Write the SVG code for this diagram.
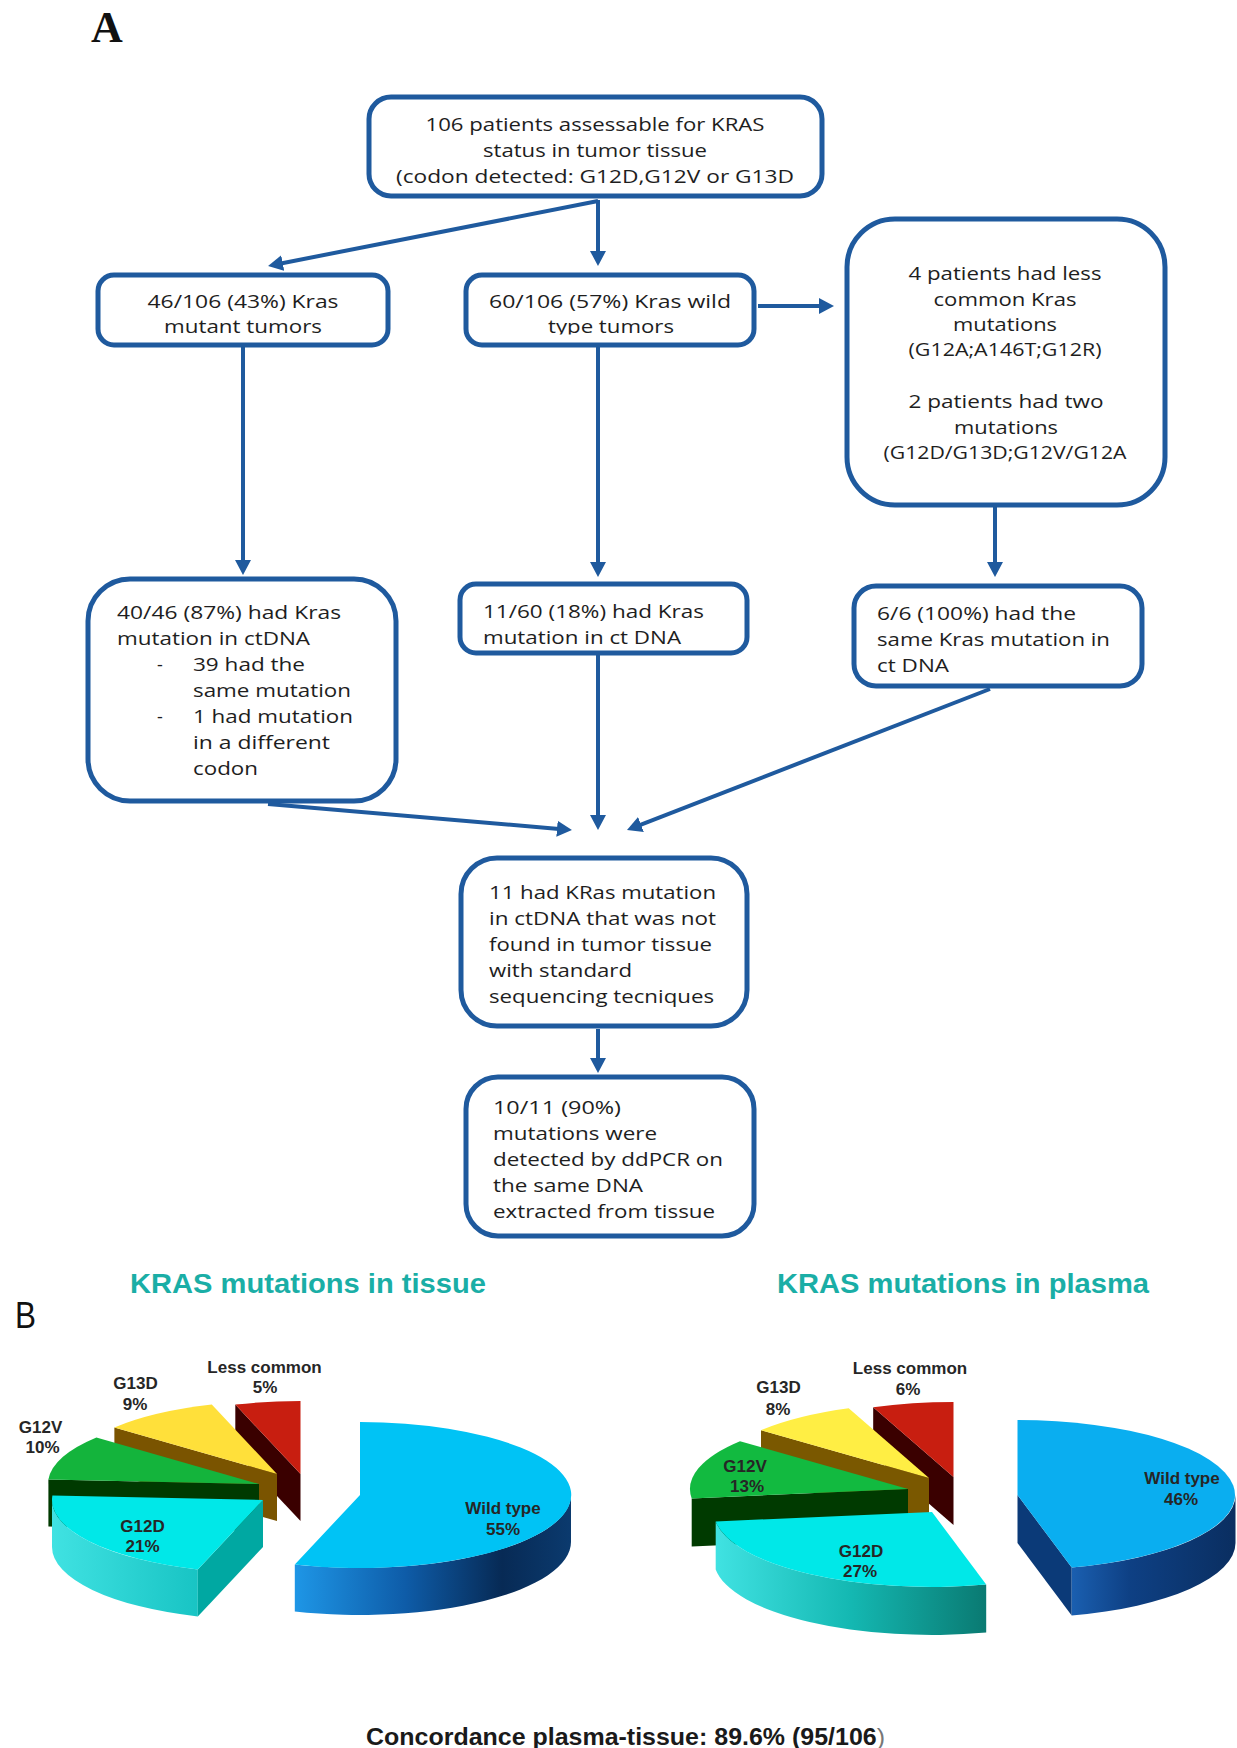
<svg xmlns="http://www.w3.org/2000/svg" width="1237" height="1748" viewBox="0 0 1237 1748">
<style>
.box{fill:#fff;stroke:#1F5A9E;stroke-width:5}
.t{font-family:"Open Sans","Liberation Sans",sans-serif;font-size:18px;fill:#1e1e1e}
.c{text-anchor:middle}
.conn{stroke:#1F5A9E;stroke-width:4;fill:none;marker-end:url(#ah)}
.lbl{font-family:"Liberation Sans",Arial,sans-serif;font-weight:bold;font-size:17px;fill:#262626;text-anchor:middle}
.title{font-family:"Liberation Sans",Arial,sans-serif;font-weight:bold;font-size:28.5px;fill:#1AAEA6}
</style>
<defs>
<marker id="ah" markerUnits="userSpaceOnUse" markerWidth="16" markerHeight="16" refX="2" refY="8" orient="auto">
<path d="M0,0 L15,8 L0,16 Z" fill="#1F5A9E"/>
</marker>
<clipPath id="clipWild"><rect x="464" y="273" width="292" height="61.5"/></clipPath>
<linearGradient id="tWildSide" gradientUnits="userSpaceOnUse" x1="295" y1="0" x2="571" y2="0">
<stop offset="0" stop-color="#1E96E6"/><stop offset="0.4" stop-color="#0E5CA8"/><stop offset="0.75" stop-color="#072A55"/><stop offset="1" stop-color="#0B3A6E"/>
</linearGradient>
<linearGradient id="tG12DSide" gradientUnits="userSpaceOnUse" x1="52" y1="0" x2="198" y2="0">
<stop offset="0" stop-color="#40E2E2"/><stop offset="1" stop-color="#18C4C4"/>
</linearGradient>
<linearGradient id="pWildSide" gradientUnits="userSpaceOnUse" x1="1072" y1="0" x2="1237" y2="0">
<stop offset="0" stop-color="#1A5FB0"/><stop offset="0.35" stop-color="#0E4084"/><stop offset="1" stop-color="#0A2E60"/>
</linearGradient>
<linearGradient id="pG12DSide" gradientUnits="userSpaceOnUse" x1="716" y1="0" x2="986" y2="0">
<stop offset="0" stop-color="#40E2E2"/><stop offset="0.5" stop-color="#14B8B2"/><stop offset="1" stop-color="#0A7A72"/>
</linearGradient>
</defs>
<rect x="0" y="0" width="1237" height="1748" fill="#fff"/>

<text x="91" y="42" font-family="Liberation Serif, serif" font-weight="bold" font-size="44" fill="#111">A</text>

<g id="connectors">
<path class="conn" d="M598,200 L598,253"/>
<path class="conn" d="M598,201 L280.8,263.5"/>
<path class="conn" d="M758,306 L821,306"/>
<path class="conn" d="M243,347 L243,562"/>
<path class="conn" d="M598,347 L598,564"/>
<path class="conn" d="M995,507 L995,564"/>
<path class="conn" d="M268,804 L559,828.9"/>
<path class="conn" d="M598,655 L598,817"/>
<path class="conn" d="M990,689 L639.1,825.3"/>
<path class="conn" d="M598,1029 L598,1060"/>
</g>

<g id="node-top">
<rect class="box" x="369" y="97" width="453" height="99" rx="22"/>
<text class="t c" x="595" y="131" textLength="339" lengthAdjust="spacingAndGlyphs">106 patients assessable for KRAS</text>
<text class="t c" x="595" y="157" textLength="224" lengthAdjust="spacingAndGlyphs">status in tumor tissue</text>
<text class="t c" x="595" y="183" textLength="398" lengthAdjust="spacingAndGlyphs">(codon detected: G12D,G12V or G13D</text>
</g>

<g id="node-mutant">
<rect class="box" x="98" y="275" width="290" height="70" rx="16"/>
<text class="t c" x="243" y="308" textLength="191" lengthAdjust="spacingAndGlyphs">46/106 (43%) Kras</text>
<text class="t c" x="243" y="333" textLength="158" lengthAdjust="spacingAndGlyphs">mutant tumors</text>
</g>

<g id="node-wild">
<rect class="box" x="466" y="275" width="288" height="70" rx="16"/>
<text class="t c" x="610" y="308" textLength="242" lengthAdjust="spacingAndGlyphs">60/106 (57%) Kras wild</text>
<text class="t c" x="611" y="333" textLength="126" lengthAdjust="spacingAndGlyphs" clip-path="url(#clipWild)">type tumors</text>
</g>

<g id="node-lesscommon">
<rect class="box" x="847" y="219" width="318" height="286" rx="48"/>
<text class="t c" x="1005" y="280" textLength="193" lengthAdjust="spacingAndGlyphs">4 patients had less</text>
<text class="t c" x="1005" y="305.5" textLength="143" lengthAdjust="spacingAndGlyphs">common Kras</text>
<text class="t c" x="1005" y="331" textLength="104" lengthAdjust="spacingAndGlyphs">mutations</text>
<text class="t c" x="1005" y="356" textLength="193" lengthAdjust="spacingAndGlyphs">(G12A;A146T;G12R)</text>
<text class="t c" x="1006" y="408" textLength="195" lengthAdjust="spacingAndGlyphs">2 patients had two</text>
<text class="t c" x="1006" y="434" textLength="104" lengthAdjust="spacingAndGlyphs">mutations</text>
<text class="t c" x="1005" y="459" textLength="243" lengthAdjust="spacingAndGlyphs">(G12D/G13D;G12V/G12A</text>
</g>

<g id="node-ctdna-mutant">
<rect class="box" x="88" y="579" width="308" height="222" rx="42"/>
<text class="t" x="117" y="619" textLength="224" lengthAdjust="spacingAndGlyphs">40/46 (87%) had Kras</text>
<text class="t" x="117" y="645" textLength="193" lengthAdjust="spacingAndGlyphs">mutation in ctDNA</text>
<text class="t" x="157" y="671">-</text>
<text class="t" x="193" y="671" textLength="112" lengthAdjust="spacingAndGlyphs">39 had the</text>
<text class="t" x="193" y="697" textLength="158" lengthAdjust="spacingAndGlyphs">same mutation</text>
<text class="t" x="157" y="723">-</text>
<text class="t" x="193" y="723" textLength="160" lengthAdjust="spacingAndGlyphs">1 had mutation</text>
<text class="t" x="193" y="749" textLength="137" lengthAdjust="spacingAndGlyphs">in a different</text>
<text class="t" x="193" y="775" textLength="65" lengthAdjust="spacingAndGlyphs">codon</text>
</g>

<g id="node-ctdna-wild">
<rect class="box" x="460" y="584" width="287" height="69" rx="16"/>
<text class="t" x="483" y="618" textLength="221" lengthAdjust="spacingAndGlyphs">11/60 (18%) had Kras</text>
<text class="t" x="483" y="644" textLength="198" lengthAdjust="spacingAndGlyphs">mutation in ct DNA</text>
</g>

<g id="node-ctdna-less">
<rect class="box" x="854" y="586" width="288" height="100" rx="22"/>
<text class="t" x="877" y="620" textLength="199" lengthAdjust="spacingAndGlyphs">6/6 (100%) had the</text>
<text class="t" x="877" y="646" textLength="233" lengthAdjust="spacingAndGlyphs">same Kras mutation in</text>
<text class="t" x="877" y="672" textLength="72" lengthAdjust="spacingAndGlyphs">ct DNA</text>
</g>

<g id="node-notfound">
<rect class="box" x="461" y="858" width="286" height="168" rx="36"/>
<text class="t" x="489" y="899" textLength="227" lengthAdjust="spacingAndGlyphs">11 had KRas mutation</text>
<text class="t" x="489" y="925" textLength="227" lengthAdjust="spacingAndGlyphs">in ctDNA that was not</text>
<text class="t" x="489" y="951" textLength="223" lengthAdjust="spacingAndGlyphs">found in tumor tissue</text>
<text class="t" x="489" y="977" textLength="143" lengthAdjust="spacingAndGlyphs">with standard</text>
<text class="t" x="489" y="1003" textLength="225" lengthAdjust="spacingAndGlyphs">sequencing tecniques</text>
</g>

<g id="node-ddpcr">
<rect class="box" x="466" y="1077" width="288" height="159" rx="32"/>
<text class="t" x="493" y="1114" textLength="128" lengthAdjust="spacingAndGlyphs">10/11 (90%)</text>
<text class="t" x="493" y="1140" textLength="164" lengthAdjust="spacingAndGlyphs">mutations were</text>
<text class="t" x="493" y="1166" textLength="230" lengthAdjust="spacingAndGlyphs">detected by ddPCR on</text>
<text class="t" x="493" y="1192" textLength="150" lengthAdjust="spacingAndGlyphs">the same DNA</text>
<text class="t" x="493" y="1218" textLength="222" lengthAdjust="spacingAndGlyphs">extracted from tissue</text>
</g>

<text x="15" y="1328" font-family="Liberation Sans, sans-serif" font-size="37" fill="#111" textLength="21" lengthAdjust="spacingAndGlyphs">B</text>
<text class="title" x="130" y="1293" textLength="356" lengthAdjust="spacingAndGlyphs">KRAS mutations in tissue</text>
<text class="title" x="777" y="1293" textLength="372" lengthAdjust="spacingAndGlyphs">KRAS mutations in plasma</text>

<g id="pie-tissue">
<path d="M300.5,1474 L235.3,1404.6 L235.3,1451.6 L300.5,1521 Z" fill="#3A0000"/>
<path d="M300.5,1474 L235.3,1404.6 A211,73 0 0 1 300.5,1401 Z" fill="#C81E10"/>
<path d="M277,1474 L114.4,1427.5 L114.4,1474.5 L277,1521 Z" fill="#7A5400"/>
<path d="M277,1474 L114.4,1427.5 A211,73 0 0 1 211.8,1404.6 Z" fill="#FFE03A"/>
<path d="M259,1484 L48.4,1479.4 L48.4,1526.4 L259,1531 Z" fill="#003A00"/>
<path d="M259,1484 L48.4,1479.4 A211,73 0 0 1 96.4,1437.5 Z" fill="#14B43C"/>
<path d="M197.8,1569.4 A211,73 0 0 1 52,1500 L52,1547 A211,73 0 0 0 197.8,1616.4 Z" fill="url(#tG12DSide)"/>
<path d="M263,1500 L197.8,1569.4 L197.8,1616.4 L263,1547 Z" fill="#00A8A2"/>
<path d="M263,1500 L197.8,1569.4 A211,73 0 0 1 52.4,1495.4 Z" fill="#00E8E8"/>
<path d="M571,1495 A211,73 0 0 1 294.8,1564.4 L294.8,1611.4 A211,73 0 0 0 571,1542 Z" fill="url(#tWildSide)"/>
<path d="M360,1495 L360,1422 A211,73 0 1 1 294.8,1564.4 Z" fill="#00C3F5"/>
<text class="lbl" x="264.5" y="1373">Less common</text>
<text class="lbl" x="265" y="1393">5%</text>
<text class="lbl" x="135.5" y="1389">G13D</text>
<text class="lbl" x="135" y="1410">9%</text>
<text class="lbl" x="40.5" y="1433">G12V</text>
<text class="lbl" x="42.5" y="1453">10%</text>
<text class="lbl" x="142.5" y="1532">G12D</text>
<text class="lbl" x="142.5" y="1552">21%</text>
<text class="lbl" x="503" y="1514">Wild type</text>
<text class="lbl" x="503" y="1535">55%</text>
</g>

<g id="pie-plasma">
<path d="M953.5,1477 L873.2,1407.3 L873.2,1455.3 L953.5,1525 Z" fill="#3A0000"/>
<path d="M953.5,1477 L873.2,1407.3 A218,75 0 0 1 953.5,1402 Z" fill="#C81E10"/>
<path d="M929,1478 L761,1430.2 L761,1478.2 L929,1526 Z" fill="#7A5800"/>
<path d="M929,1478 L761,1430.2 A218,75 0 0 1 848.7,1408.3 Z" fill="#FFEE44"/>
<path d="M908,1489 L691.7,1498.4 L691.7,1546.4 L908,1537 Z" fill="#003A00"/>
<path d="M908,1489 L691.7,1498.4 A218,75 0 0 1 740,1441.2 Z" fill="#12BA40"/>
<path d="M986.2,1584.6 A218,75 0 0 1 715.7,1521.4 L715.7,1569.4 A218,75 0 0 0 986.2,1632.6 Z" fill="url(#pG12DSide)"/>
<path d="M932,1512 L986.2,1584.6 A218,75 0 0 1 715.7,1521.4 Z" fill="#00E8E8"/>
<path d="M1017.5,1495 L1071.7,1567.6 L1071.7,1615.6 L1017.5,1543 Z" fill="#0B3A78"/>
<path d="M1235.5,1495 A218,75 0 0 1 1071.7,1567.6 L1071.7,1615.6 A218,75 0 0 0 1235.5,1543 Z" fill="url(#pWildSide)"/>
<path d="M1017.5,1495 L1017.5,1420 A218,75 0 0 1 1071.7,1567.6 Z" fill="#0AAEF0"/>
<text class="lbl" x="910" y="1374">Less common</text>
<text class="lbl" x="908" y="1395">6%</text>
<text class="lbl" x="778.5" y="1393">G13D</text>
<text class="lbl" x="778" y="1415">8%</text>
<text class="lbl" x="745" y="1472">G12V</text>
<text class="lbl" x="747" y="1492">13%</text>
<text class="lbl" x="861" y="1557">G12D</text>
<text class="lbl" x="860" y="1577">27%</text>
<text class="lbl" x="1182" y="1484">Wild type</text>
<text class="lbl" x="1181" y="1505">46%</text>
</g>

<text x="366" y="1745" font-family="Liberation Sans, Arial, sans-serif" font-weight="bold" font-size="24" fill="#1a1a1a" textLength="519" lengthAdjust="spacingAndGlyphs">Concordance plasma-tissue: 89.6% (95/106<tspan font-weight="normal" fill="#777">)</tspan></text>
</svg>
